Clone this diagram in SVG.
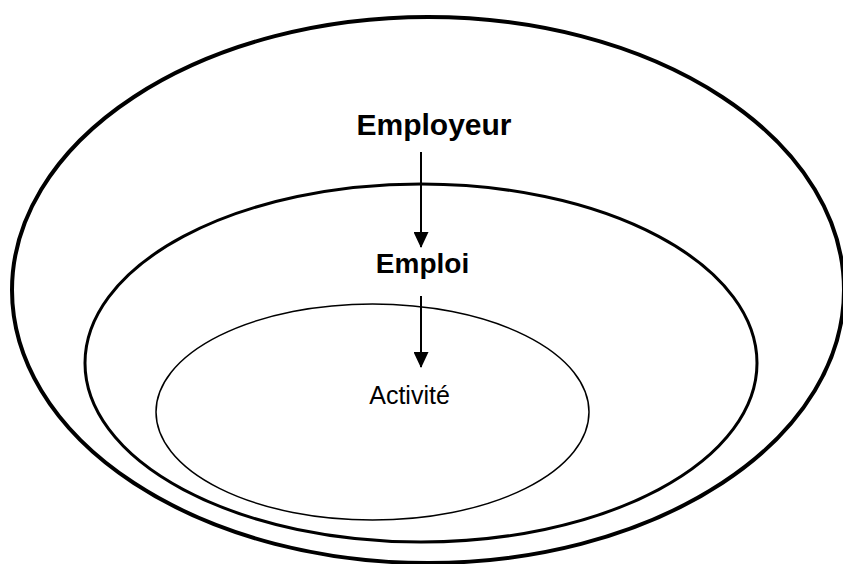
<svg xmlns="http://www.w3.org/2000/svg" width="843" height="564" viewBox="0 0 843 564">
<style>
.ring{fill:none;stroke:#000}
.bold{font-family:"Liberation Sans",Arial,sans-serif;font-weight:bold;fill:#000;text-anchor:middle}
.reg{font-family:"Liberation Sans",Arial,sans-serif;fill:#000;text-anchor:middle}
.conn{stroke:#000;stroke-width:2;fill:none}
</style>
<defs>
<marker id="ah" markerWidth="16" markerHeight="15" viewBox="0 0 16 15" refX="15" refY="7.5" orient="auto" markerUnits="userSpaceOnUse">
<path d="M0,0 L16,7.5 L0,15 Z" fill="#000"/>
</marker>
</defs>
<rect width="843" height="564" fill="#fff"/>
<g id="employeur">
<ellipse class="ring" cx="428" cy="290" rx="416" ry="273" stroke-width="4"/>
<text class="bold" x="434" y="135" font-size="30">Employeur</text>
</g>
<g id="emploi">
<ellipse class="ring" cx="421" cy="363" rx="336" ry="179" stroke-width="3"/>
<text class="bold" x="422.5" y="273" font-size="28">Emploi</text>
</g>
<g id="activite">
<ellipse class="ring" cx="372.5" cy="412" rx="216.5" ry="108" stroke-width="1.5"/>
<text class="reg" x="409.5" y="404" font-size="25">Activité</text>
</g>
<g id="connectors">
<line class="conn" x1="421" y1="152" x2="421" y2="247" marker-end="url(#ah)"/>
<line class="conn" x1="421" y1="296" x2="421" y2="367" marker-end="url(#ah)"/>
</g>
</svg>
